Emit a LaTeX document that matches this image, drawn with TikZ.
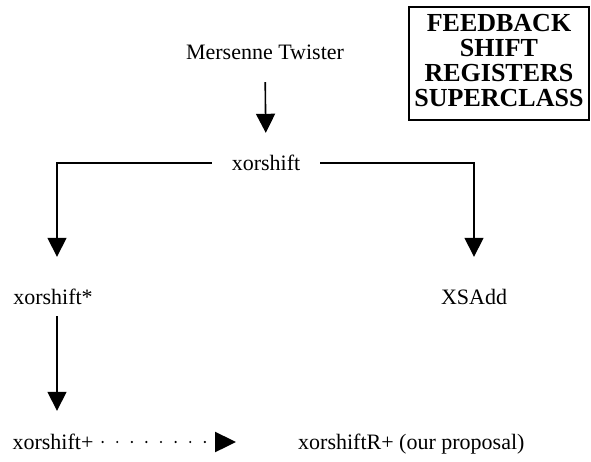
\documentclass[tikz,border=0pt]{standalone}
\usepackage{fontspec}
\setmainfont{Liberation Serif}
\usetikzlibrary{arrows.meta}
\begin{document}
\begin{tikzpicture}[x=1pt,y=-1pt,
  lbl/.style={inner sep=0pt, text height=16pt, text depth=5pt, font=\fontsize{22}{26}\selectfont},
  arr/.style={line width=1.6pt, -{Triangle[width=19pt,length=19pt]}},
  dotarr/.style={line width=2.4pt, line cap=round, dash pattern=on 0pt off 14.6pt, -{Triangle[width=20pt,length=21pt]}}]
\useasboundingbox (0,0) rectangle (591,461);
% title box
\node[draw, line width=1.6pt, minimum width=180pt, minimum height=113pt, inner sep=0pt] (box) at (499,63.5) {};
\node[align=center, inner sep=0pt, font=\fontsize{26}{25.3}\selectfont\bfseries] (boxtext) at ([yshift=3pt]box.center) {FEEDBACK\\SHIFT\\REGISTERS\\SUPERCLASS};
% nodes
\node[lbl, anchor=base] (mt) at (265,59) {Mersenne Twister};
\node[lbl, anchor=base, inner xsep=20pt, text depth=2pt] (xs) at (266,170) {xorshift};
\node[lbl, anchor=base] (xss) at (53,304) {xorshift*};
\node[lbl, anchor=base] (xsa) at (474,304) {XSAdd};
\node[lbl, anchor=base] (xsp) at (53,449) {xorshift+};
\node[lbl, anchor=base west] (xsr) at (298,449) {xorshiftR+ (our proposal)};
% connectors
\draw[arr, shorten <=18pt, shorten >=21pt] (mt.south) -- (xs.north);
\draw[arr, shorten >=31pt] (xs.west) -| ([xshift=4pt]xss.north);
\draw[arr, shorten >=31pt] (xs.east) -| (xsa.north);
\draw[arr, shorten <=7pt, shorten >=22pt] ([xshift=4pt]xss.south) -- ([xshift=4pt]xsp.north);
\coordinate (dtip) at (236,442);
\draw[dotarr] ([xshift=9pt]xsp.east |- dtip) -- (dtip);
\end{tikzpicture}
\end{document}
